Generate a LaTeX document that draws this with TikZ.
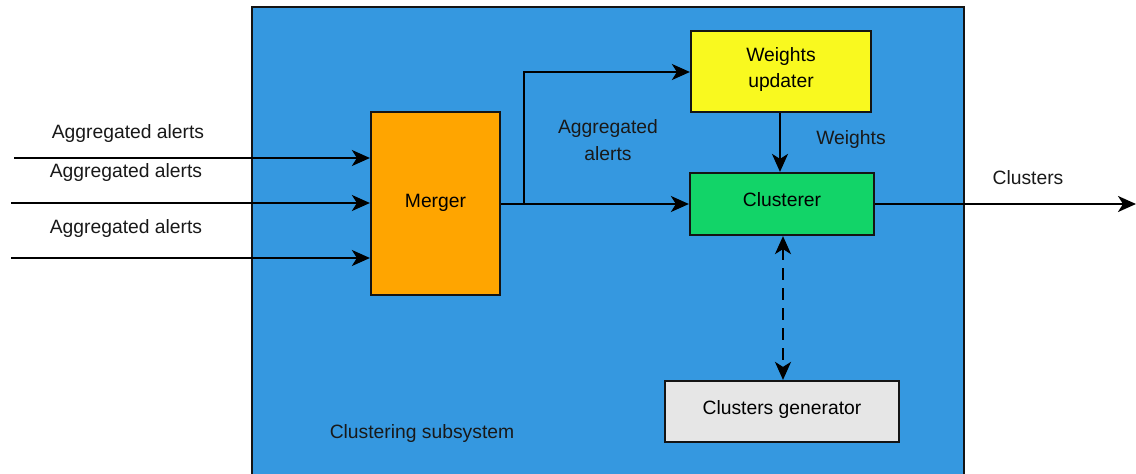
\documentclass[tikz,border=0pt]{standalone}
\usepackage{fontspec}
\setmainfont{Liberation Sans}
\usetikzlibrary{arrows.meta}
\definecolor{subsysblue}{RGB}{53,152,224}
\definecolor{mergerorange}{RGB}{255,165,0}
\definecolor{wuyellow}{RGB}{249,249,31}
\definecolor{clgreen}{RGB}{18,212,104}
\definecolor{gengray}{RGB}{230,230,230}
\definecolor{edge}{RGB}{20,20,20}
\tikzset{
  blk/.style={draw=edge, line width=2.2pt, inner sep=0pt, font=\fontsize{19.3}{23}\selectfont, align=center},
  lbl/.style={font=\fontsize{19.3}{27}\selectfont, align=center, inner sep=0pt, text=black!90},
  conn/.style={line width=2.2pt, draw=black, -{Stealth[length=18pt,width=16pt,inset=5pt]}},
  dconn/.style={line width=2.2pt, draw=black, dash pattern=on 12pt off 8pt, {Stealth[length=18pt,width=16pt,inset=5pt]}-{Stealth[length=18pt,width=16pt,inset=5pt]}}
}
\begin{document}
\begin{tikzpicture}[x=1pt,y=-1pt]
\useasboundingbox (0,0) rectangle (1136,474);
\fill[white] (0,0) rectangle (1136,474);
\node[blk, fill=subsysblue, minimum width=712pt, minimum height=480pt, anchor=north west] (sub) at (251,6) {};
\node[lbl] (sublbl) at (422,434) {Clustering subsystem};
\node[blk, fill=mergerorange, minimum width=129pt, minimum height=183pt] (merger) at (435.5,203.5) {\raisebox{5pt}{Merger}};
\node[blk, fill=wuyellow, minimum width=180pt, minimum height=81pt] (wu) at (781,71.5) {\raisebox{8pt}{\shortstack{Weights\\[5pt]updater}}};
\node[blk, fill=clgreen, minimum width=184pt, minimum height=62pt] (cl) at (782,204) {\raisebox{9pt}{Clusterer}};
\node[blk, fill=gengray, minimum width=234pt, minimum height=61pt] (gen) at (782,411.5) {\raisebox{7pt}{Clusters generator}};
% inputs
\coordinate (in1) at (14,158);
\coordinate (in2) at (11,203);
\coordinate (in3) at (11,258);
\node[lbl] (l1) at (128,134) {Aggregated alerts};
\node[lbl] (l2) at (126,173) {Aggregated alerts};
\node[lbl] (l3) at (126,229) {Aggregated alerts};
\draw[conn] (in1) -- (merger.west |- in1);
\draw[conn] (in2) -- (merger.west |- in2);
\draw[conn] (in3) -- (merger.west |- in3);
% merger out
\coordinate (br) at (524,204);
\draw[conn] (merger.east |- br) -- (cl.west |- br);
\draw[conn] (br) -- (524,72) -- (wu.west |- 0,72);
\node[lbl] (l4) at (608,140) {Aggregated\\alerts};
% weights
\draw[conn] (wu.south -| 780,0) -- (cl.north -| 780,0);
\node[lbl] (l5) at (851,140) {Weights};
% out
\coordinate (out) at (1136,204);
\draw[conn] (cl.east |- out) -- (out);
\node[lbl] (l6) at (1028,178) {Clusters};
% dashed
\draw[dconn] (cl.south -| 783,0) -- (gen.north -| 783,0);
\end{tikzpicture}
\end{document}
